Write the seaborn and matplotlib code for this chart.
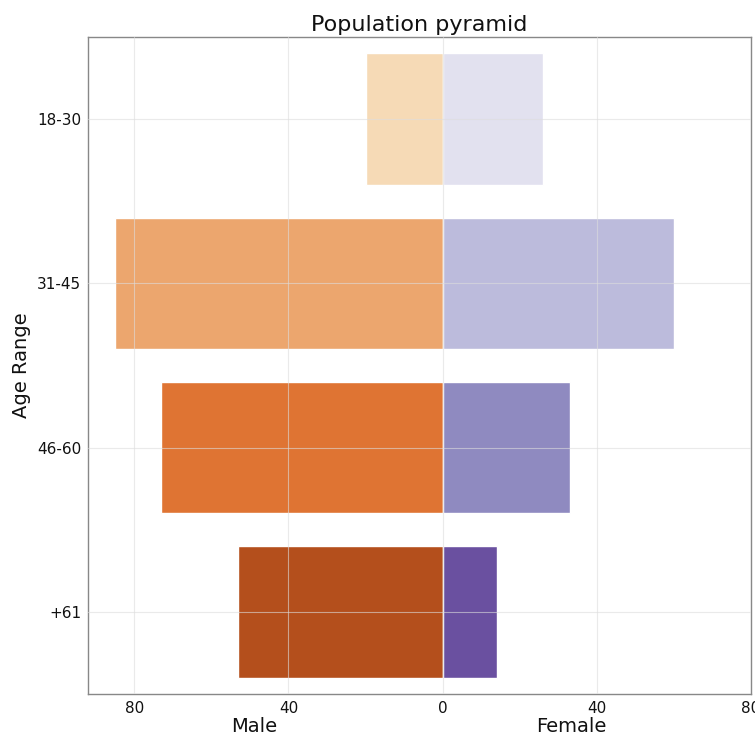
import matplotlib
matplotlib.use("Agg")
import matplotlib.pyplot as plt
import matplotlib.transforms as mtransforms
from matplotlib.ticker import FuncFormatter
import seaborn as sns
import pandas as pd

age_ranges = ["18-30", "31-45", "46-60", "+61"]
male = [20, 85, 73, 53]
female = [26, 60, 33, 14]
male_colors = ["#f6dab6", "#eca66e", "#df7433", "#b44f1c"]
female_colors = ["#e2e1ef", "#bcbbdc", "#8f8ac0", "#6a50a0"]
x_ticks = [-80, -40, 0, 40, 80]

sns.set_theme(style="whitegrid")
plt.rcParams['font.family'] = ['DejaVu Sans']

df_m = pd.DataFrame({"age": age_ranges, "value": [-v for v in male]})
df_f = pd.DataFrame({"age": age_ranges, "value": female})

fig = plt.figure(figsize=(7.55, 7.36), dpi=100)
ax = fig.add_axes([0.1166, 0.0571, 0.8781, 0.8926])

sns.barplot(data=df_m, x="value", y="age", hue="age", palette=male_colors,
            order=age_ranges, hue_order=age_ranges, dodge=False, legend=False,
            width=0.8, ax=ax, saturation=1)
sns.barplot(data=df_f, x="value", y="age", hue="age", palette=female_colors,
            order=age_ranges, hue_order=age_ranges, dodge=False, legend=False,
            width=0.8, ax=ax, saturation=1)

ax.set_xlim(-92, 80)
ax.set_ylim(3.5, -0.5)
ax.set_xticks(x_ticks)
ax.xaxis.set_major_formatter(FuncFormatter(lambda v, p: f"{abs(int(v))}"))
ax.tick_params(axis="both", labelsize=11, length=3, color="#999999",
               labelcolor="#111111", pad=2)
ax.set_axisbelow(False)
ax.grid(True, color="#dddddd", linewidth=0.8, alpha=0.6)
for s in ax.spines.values():
    s.set_color("#888888")
    s.set_linewidth(1.0)

ax.set_title("Population pyramid", fontsize=16, pad=4, color="#111111")
ax.set_xlabel("")
ax.set_ylabel("Age Range", fontsize=14, color="#111111")

trans = mtransforms.blended_transform_factory(ax.transData, ax.transAxes)
ax.text(-49, -0.05, "Male", transform=trans, ha="center", va="center",
        fontsize=14, color="#111111")
ax.text(33.5, -0.05, "Female", transform=trans, ha="center", va="center",
        fontsize=14, color="#111111")

fig.savefig("out.png", dpi=100)
